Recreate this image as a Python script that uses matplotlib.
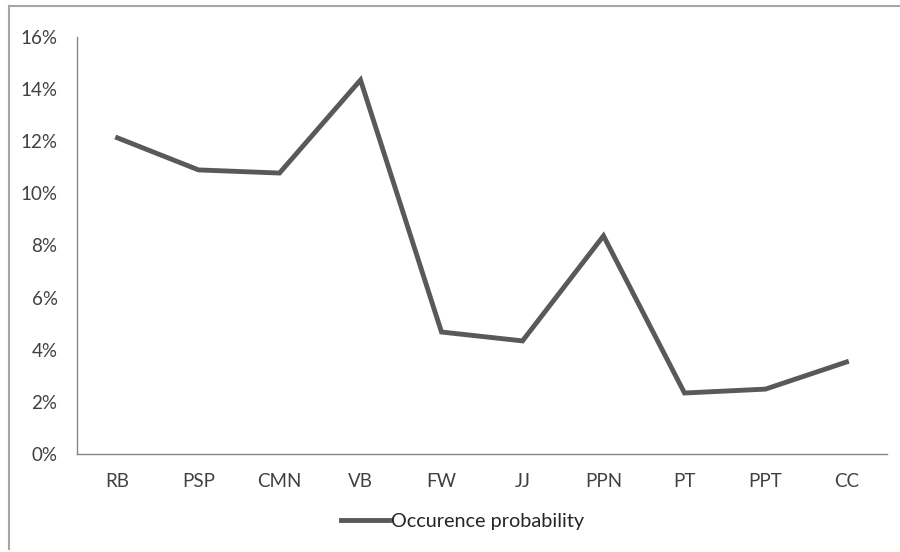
import matplotlib.pyplot as plt
from matplotlib.lines import Line2D
from matplotlib.ticker import FuncFormatter

categories = ['RB', 'PSP', 'CMN', 'VB', 'FW', 'JJ', 'PPN', 'PT', 'PPT', 'CC']
probability = [0.1213, 0.1090, 0.1078, 0.1435, 0.0468, 0.0434, 0.0837, 0.0234, 0.0249, 0.0353]
series_name = 'Occurence probability'

plt.rcParams['font.family'] = ['Lato', 'DejaVu Sans']

fig = plt.figure(figsize=(9, 5.52), dpi=100)
ax = fig.add_axes([77 / 900, 1 - 454 / 552, 810 / 900, 417 / 552])

x = range(len(categories))
line, = ax.plot(x, probability, color='#595959', linewidth=3.5, solid_joinstyle='miter')

ax.set_xlim(-0.5, len(categories) - 0.5)
ax.set_ylim(0, 0.16)
ax.set_yticks([i / 100 for i in range(0, 17, 2)])
ax.yaxis.set_major_formatter(FuncFormatter(lambda v, _: f'{v * 100:.0f}%'))
ax.set_xticks(list(x))
ax.set_xticklabels(categories)
ax.tick_params(length=0, labelsize=13.5, colors='#404040')
ax.tick_params(axis='x', pad=14)
ax.tick_params(axis='y', pad=14)

for side in ['top', 'right']:
    ax.spines[side].set_visible(False)
for side in ['left', 'bottom']:
    ax.spines[side].set_color('#868686')
    ax.spines[side].set_linewidth(1)

# legend below the axis
fig.legend([line], [series_name], loc='center', bbox_to_anchor=(0.514, 1 - 521 / 552),
           frameon=False, fontsize=14.3, handlelength=2.4, handletextpad=0.1,
           labelcolor='#262626')

# chart frame, as in the spreadsheet export
fig.add_artist(Line2D([9 / 900, 1], [1 - 6 / 552, 1 - 6 / 552], color='#a6a6a6', linewidth=1.5,
                      transform=fig.transFigure))
fig.add_artist(Line2D([9 / 900, 9 / 900], [1 - 6 / 552, 1 - 549 / 552], color='#a6a6a6', linewidth=1.5,
                      transform=fig.transFigure))

fig.savefig('out.png', dpi=100)
